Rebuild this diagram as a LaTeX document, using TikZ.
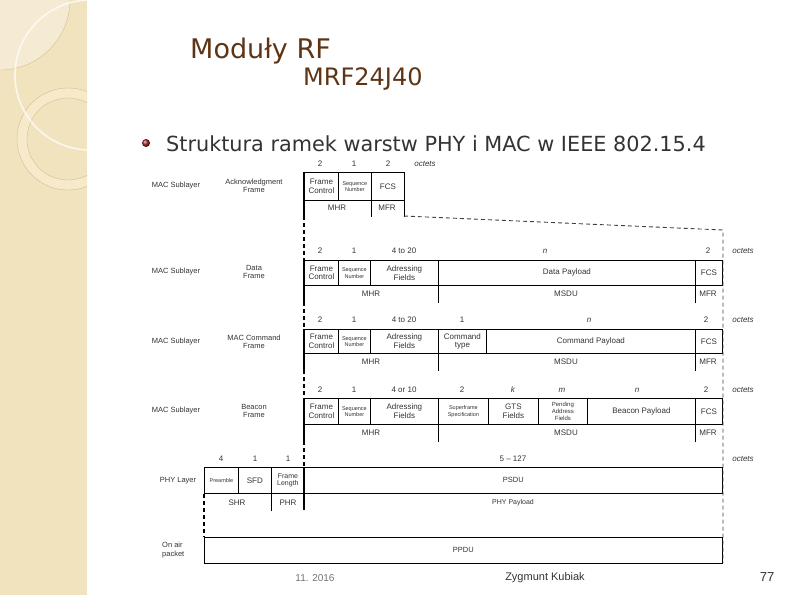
\documentclass[tikz,border=0pt]{standalone}
\usepackage{fontspec}
\setmainfont{Liberation Sans}
\newfontfamily\slidefont{DejaVu Sans}
\usetikzlibrary{positioning}
\definecolor{panel}{HTML}{F2E3BF}
\definecolor{panelring}{HTML}{F6EACB}
\definecolor{panelline}{HTML}{D2BD92}
\definecolor{titlebrown}{HTML}{5E3414}
\definecolor{bulletred}{HTML}{9A1E1E}
\definecolor{inkgray}{HTML}{333333}

\begin{document}
\begin{tikzpicture}[x=1pt, y=-1pt,
        field/.style={draw=black, line width=0.8pt, anchor=north west, inner sep=0pt, align=center, minimum height=26, font=\fontsize{8}{8.6}\selectfont, text=black!80},
        smallfield/.style={field, font=\fontsize{5.5}{6.5}\selectfont},
        lbl/.style={inner sep=0pt, align=center, font=\fontsize{7.5}{8.5}\selectfont, text=black!80},
        octet/.style={inner sep=0pt, font=\fontsize{8}{9}\selectfont, text=black!80},
        divider/.style={draw=black, line width=0.8pt},
        spine/.style={line width=2.2pt},
        spinegap/.style={line width=2.2pt, dash pattern=on 4pt off 3pt},
        rim/.style={black!75, line width=0.9pt, dash pattern=on 4pt off 3pt}
    ]
    \useasboundingbox (0,0) rectangle (794,595);

    % decorated side panel
    \fill[panel] (0,0) rectangle (87,595);
    \begin{scope}
        \clip (0,0) rectangle (87,595);
        \fill[white, opacity=0.3] (0,0) circle (70);
        \draw[panelline, line width=0.4pt] (0,0) circle (70);
        \fill[panelring, even odd rule] (68,139) circle (51) (68,139) circle (41);
        \draw[panelline, line width=0.4pt] (68,139) circle (51) (68,139) circle (41);
        \draw[white, opacity=0.75, line width=1.6pt] (90,75) circle (75);
    \end{scope}

    % slide titles
    \node[anchor=base west, inner sep=0pt, font=\slidefont\fontsize{27}{29}\selectfont, text=titlebrown] (title) at (190,58) {Moduły RF};
    \node[anchor=base west, inner sep=0pt, font=\slidefont\fontsize{24}{26}\selectfont, text=titlebrown] (chip) at (303,85) {MRF24J40};
    \shade[ball color=bulletred] (146,143) circle (4);
    \node[anchor=base west, inner sep=0pt, font=\slidefont\fontsize{20.8}{22}\selectfont, text=inkgray] (heading) at (166,151) {Struktura ramek warstw PHY i MAC w IEEE 802.15.4};

    % acknowledgment frame
    \foreach \x/\t [count=\i] in {320/2, 354/1, 388/2, 425/\textit{octets}}
        \node[octet] (ackoct\i) at (\x,164) {\t};
    \node[lbl] (acklayer) at (176,186) {MAC Sublayer};
    \node[lbl] (ackname) at (254,186) {Acknowledgment\\Frame};
    \node[field, minimum width=34, minimum height=28] (ackfc) at (304,172) {Frame\\Control};
    \node[smallfield, minimum width=33, minimum height=28] (ackseq) at (338,172) {Sequence\\Number};
    \node[field, minimum width=33, minimum height=28] (ackfcs) at (371,172) {FCS};
    \node[octet] (ackmhr) at (337,208) {MHR};
    \node[octet] (ackmfr) at (387,208) {MFR};
    \draw[divider] (ackseq.south east) -- ++(0,16) (ackfcs.south east) -- ++(0,16);
    \coordinate (ackend) at (404,216);

    % data frame
    \foreach \x/\t [count=\i] in {320/2, 354/1, 404/4 to 20, 545/\textit{n}, 708/2, 743/\textit{octets}}
        \node[octet] (dataoct\i) at (\x,251) {\t};
    \node[lbl] (datalayer) at (176,272) {MAC Sublayer};
    \node[lbl] (dataname) at (254,272) {Data\\Frame};
    \node[field, minimum width=34, minimum height=25] (datafc) at (304,260) {Frame\\Control};
    \node[smallfield, minimum width=32, minimum height=25] (dataseq) at (338,260) {Sequence\\Number};
    \node[field, minimum width=68, minimum height=25] (dataaddr) at (370,260) {Adressing\\Fields};
    \node[field, minimum width=257, minimum height=25] (datapay) at (438,260) {Data Payload};
    \node[field, minimum width=27, minimum height=25] (datafcs) at (695,260) {FCS};
    \node[octet] (datamhr) at (371,294) {MHR};
    \node[octet] (datamsdu) at (566,294) {MSDU};
    \node[octet] (datamfr) at (708,294) {MFR};
    \draw[divider] (dataaddr.south east) -- ++(0,17) (datapay.south east) -- ++(0,17);

    % MAC command frame
    \foreach \x/\t [count=\i] in {320/2, 354/1, 404/4 to 20, 462/1, 589/\textit{n}, 706/2, 743/\textit{octets}}
        \node[octet] (cmdoct\i) at (\x,320) {\t};
    \node[lbl] (cmdlayer) at (176,342) {MAC Sublayer};
    \node[lbl] (cmdname) at (254,342) {MAC Command\\Frame};
    \begin{scope}[every node/.append style={line width=1.2pt}]
        \node[field, minimum width=34, minimum height=24] (cmdfc) at (304,329) {Frame\\Control};
        \node[smallfield, minimum width=32, minimum height=24] (cmdseq) at (338,329) {Sequence\\Number};
        \node[field, minimum width=68, minimum height=24] (cmdaddr) at (370,329) {Adressing\\Fields};
        \node[field, minimum width=48, minimum height=24] (cmdtype) at (438,329) {Command\\type};
        \node[field, minimum width=209, minimum height=24] (cmdpay) at (486,329) {Command Payload};
        \node[field, minimum width=27, minimum height=24] (cmdfcs) at (695,329) {FCS};
    \end{scope}
    \node[octet] (cmdmhr) at (371,362) {MHR};
    \node[octet] (cmdmsdu) at (566,362) {MSDU};
    \node[octet] (cmdmfr) at (708,362) {MFR};
    \draw[divider, line width=1.2pt] (cmdaddr.south east) -- ++(0,17) (cmdpay.south east) -- ++(0,17);

    % beacon frame
    \foreach \x/\t [count=\i] in {320/2, 354/1, 404/4 or 10, 462/2, 513/\textit{k}, 562/\textit{m}, 637/\textit{n}, 706/2, 743/\textit{octets}}
        \node[octet] (bcnoct\i) at (\x,390) {\t};
    \node[lbl] (bcnlayer) at (176,411) {MAC Sublayer};
    \node[lbl] (bcnname) at (254,411) {Beacon\\Frame};
    \node[field, minimum width=34] (bcnfc) at (304,398) {Frame\\Control};
    \node[smallfield, minimum width=32] (bcnseq) at (338,398) {Sequence\\Number};
    \node[field, minimum width=68] (bcnaddr) at (370,398) {Adressing\\Fields};
    \node[smallfield, minimum width=50] (bcnsuper) at (438,398) {Superframe\\Specification};
    \node[field, minimum width=50] (bcngts) at (488,398) {GTS\\Fields};
    \node[field, minimum width=49, font=\fontsize{6}{7}\selectfont] (bcnpend) at (538,398) {Pending\\Address\\Fields};
    \node[field, minimum width=108] (bcnpay) at (587,398) {Beacon Payload};
    \node[field, minimum width=27] (bcnfcs) at (695,398) {FCS};
    \node[octet] (bcnmhr) at (371,433) {MHR};
    \node[octet] (bcnmsdu) at (566,433) {MSDU};
    \node[octet] (bcnmfr) at (708,433) {MFR};
    \draw[divider] (bcnaddr.south east) -- ++(0,17) (bcnpay.south east) -- ++(0,17);

    % PHY layer
    \foreach \x/\t [count=\i] in {221/4, 255/1, 288/1, 513/5 – 127, 743/\textit{octets}}
        \node[octet] (phyoct\i) at (\x,459) {\t};
    \node[lbl] (phylayer) at (178,481) {PHY Layer};
    \node[smallfield, minimum width=34] (phypre) at (204,467) {Preamble};
    \node[field, minimum width=33] (physfd) at (238,467) {SFD};
    \node[field, minimum width=33, font=\fontsize{7}{7.6}\selectfont] (phylen) at (271,467) {Frame\\Length};
    \node[field, minimum width=418, font=\fontsize{7.5}{8}\selectfont] (phypsdu) at (304,467) {PSDU};
    \node[octet] (physhr) at (237,503) {SHR};
    \node[octet] (phyphr) at (288,503) {PHR};
    \node[octet, font=\fontsize{7}{8}\selectfont] (phypay) at (513,503) {PHY Payload};
    \draw[divider] (phylen.south west) -- ++(0,17);

    % on air packet
    \node[lbl, align=left, anchor=west] (airname) at (162,550) {On air\\packet};
    \node[field, minimum width=518, font=\fontsize{7.5}{8}\selectfont] (ppdu) at (204,537) {PPDU};
    \draw[rim, black, line width=1.3pt] (phypre.south west) -- (ppdu.north west);

    % frame spine and right rim
    \foreach \a/\b in {172/216, 260/302, 329/370, 398/441, 467/510}
        \draw[spine] (304,\a) -- (304,\b);
    \foreach \a/\b in {216/260, 302/329, 370/398, 441/467}
        \draw[spinegap] (304,\a) -- (304,\b);
    \draw[rim] (ackend) -- (723,230) -- (723,563);

    % footer
    \node[inner sep=0pt, font=\fontsize{10}{12}\selectfont, text=black!55] (date) at (315,578) {11. 2016};
    \node[inner sep=0pt, font=\fontsize{11}{13}\selectfont, text=inkgray] (author) at (545,578) {Zygmunt Kubiak};
    \node[inner sep=0pt, font=\fontsize{13}{15}\selectfont, text=inkgray] (page) at (767,577) {77};

\end{tikzpicture}
\end{document}
